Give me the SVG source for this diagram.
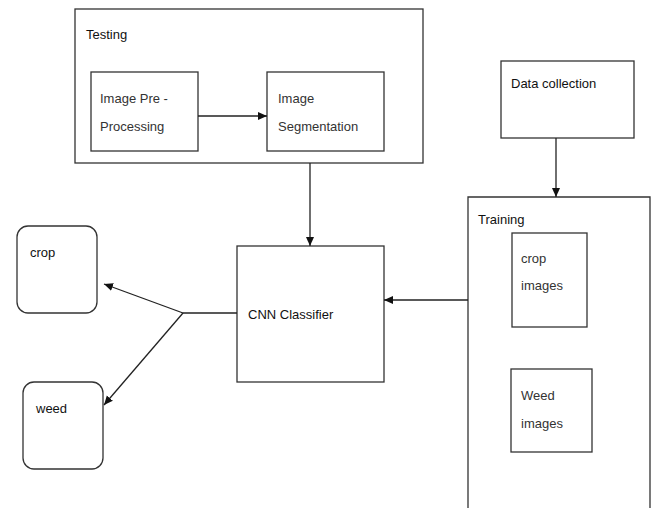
<svg xmlns="http://www.w3.org/2000/svg" width="654" height="508" viewBox="0 0 654 508">
<style>
.box{fill:#fff;stroke:#333;stroke-width:1.3}
.t{font-family:"Liberation Sans",Arial,sans-serif;font-size:13px;fill:#333}
.b{fill:#111}
.c{fill:none;stroke:#222;stroke-width:1.3}
</style>
<defs>
<marker id="ah" markerWidth="10" markerHeight="10" refX="9" refY="5" orient="auto" markerUnits="userSpaceOnUse">
<path d="M0,1 L9,5 L0,9 z" fill="#111"/>
</marker>
</defs>
<rect width="654" height="508" fill="#fff"/>
<g id="testing">
<rect class="box" x="75" y="9" width="348" height="154"/>
<text class="t b" x="86" y="39">Testing</text>
</g>
<g id="preprocessing">
<rect class="box" x="91" y="72" width="107" height="79"/>
<text class="t" x="100" y="103">Image Pre -</text>
<text class="t" x="100" y="131">Processing</text>
</g>
<g id="segmentation">
<rect class="box" x="267" y="72" width="117" height="79"/>
<text class="t" x="278" y="103">Image</text>
<text class="t" x="278" y="131">Segmentation</text>
</g>
<g id="datacollection">
<rect class="box" x="501" y="61" width="133" height="77"/>
<text class="t b" x="511" y="88">Data collection</text>
</g>
<g id="training">
<path class="box" d="M468,509 V197 H650 V509"/>
<text class="t b" x="478" y="224">Training</text>
</g>
<g id="cropimages">
<rect class="box" x="512" y="233" width="75" height="94"/>
<text class="t" x="521" y="263">crop</text>
<text class="t" x="521" y="290">images</text>
</g>
<g id="weedimages">
<rect class="box" x="511" y="369" width="81" height="83"/>
<text class="t" x="521" y="400">Weed</text>
<text class="t" x="521" y="428">images</text>
</g>
<g id="cnn">
<rect class="box" x="237" y="246" width="147" height="136"/>
<text class="t b" x="248" y="319">CNN Classifier</text>
</g>
<g id="crop">
<rect class="box" x="17" y="226" width="80" height="87" rx="11"/>
<text class="t b" x="30" y="257">crop</text>
</g>
<g id="weed">
<rect class="box" x="23" y="382" width="80" height="87" rx="11"/>
<text class="t b" x="36" y="413">weed</text>
</g>
<g id="connectors">
<line class="c" x1="198" y1="116" x2="267" y2="116" marker-end="url(#ah)"/>
<line class="c" x1="310" y1="163" x2="310" y2="246" marker-end="url(#ah)"/>
<line class="c" x1="556" y1="138" x2="556" y2="197" marker-end="url(#ah)"/>
<line class="c" x1="468" y1="300" x2="384" y2="300" marker-end="url(#ah)"/>
<line class="c" x1="237" y1="313" x2="183" y2="313"/>
<line class="c" x1="183" y1="313" x2="104" y2="284" marker-end="url(#ah)"/>
<line class="c" x1="183" y1="313" x2="104" y2="405" marker-end="url(#ah)"/>
</g>
</svg>
